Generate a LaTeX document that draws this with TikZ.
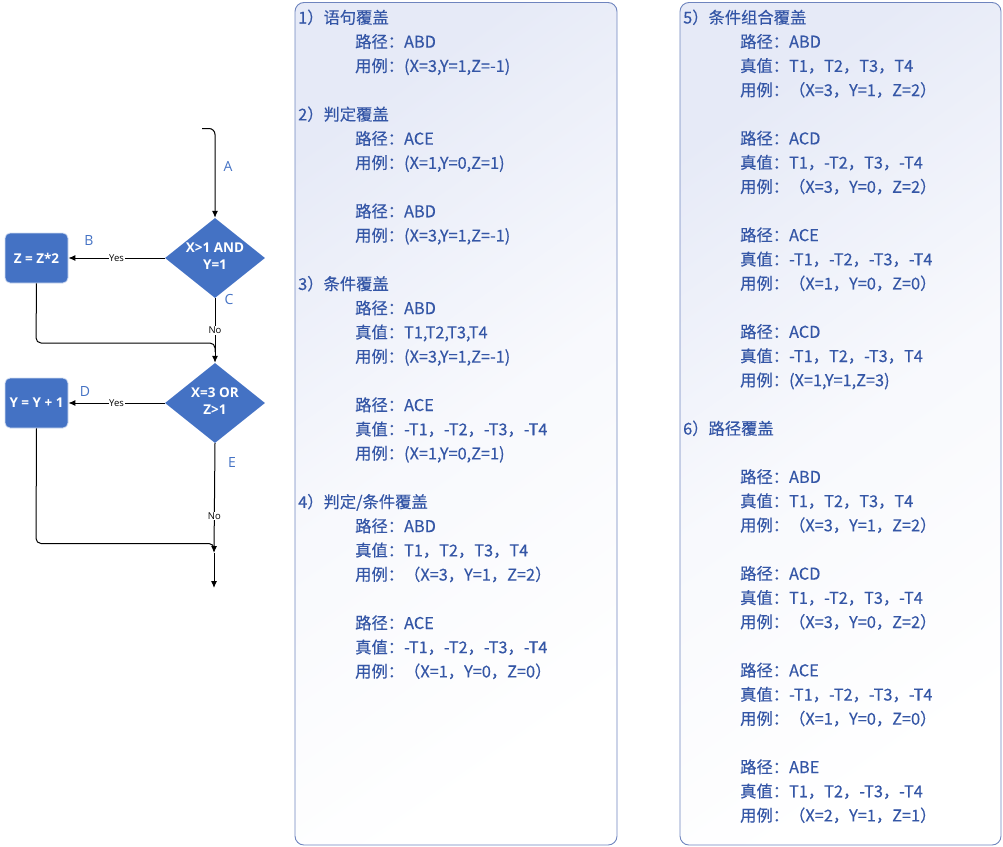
\documentclass[tikz,border=0pt]{standalone}
\usepackage{fontspec}
\setmainfont{Noto Sans CJK SC}[FakeBold=0.3]
\newfontfamily\flowfont{Open Sans}
\usetikzlibrary{arrows.meta,shapes.geometric}
\definecolor{flowblue}{HTML}{4472C4}
\definecolor{txtblue}{RGB}{52,86,166}
\definecolor{boxborder}{RGB}{110,132,190}
\definecolor{boxtint}{RGB}{230,234,247}
\newcommand\ind{\hspace*{57pt}}
\newcommand\blankline{\mbox{}\\}
\newcommand\dtext[1]{\makebox[30pt]{\begin{tabular}{@{}c@{}}#1\end{tabular}}}
\begin{document}
\begin{tikzpicture}[x=1pt,y=-1pt,
  proc/.style={rectangle, rounded corners=5pt, fill=flowblue, draw=white!75!flowblue, line width=0.8pt,
    minimum width=63pt, minimum height=50pt, inner sep=0pt, text=white,
    font=\flowfont\bfseries\fontsize{13.5}{16}\selectfont},
  dec/.style={diamond, aspect=1.25, fill=flowblue, minimum width=100pt, minimum height=80pt, inner sep=0pt,
    text=white, font=\flowfont\bfseries\fontsize{13.5}{17}\selectfont},
  conn/.style={draw=black, line width=1pt},
  arr/.style={conn, -{Latex[length=7pt,width=6pt]}},
  yn/.style={fill=white, inner sep=0.6pt, text=black, font=\flowfont\fontsize{9.5}{10}\selectfont},
  letter/.style={text=flowblue, inner sep=0pt, font=\flowfont\fontsize{14}{15}\selectfont},
  panel/.style={draw=boxborder, line width=0.9pt, rounded corners=9pt,
    top color=boxtint, bottom color=white, middle color=white!70!boxtint, shading angle=35},
  ptext/.style={anchor=base west, inner sep=0pt, text=txtblue}
]
\useasboundingbox (0,0) rectangle (1003,846);

% ---- panels ----
\path[panel] (295,2.5) rectangle (617,845);
\path[panel] (680,2.5) rectangle (1001,845);

\node[ptext] (t1) at (298,23.5) {\begin{minipage}[t]{310pt}\fontsize{16.3pt}{24.22pt}\selectfont\parindent0pt
1）语句覆盖\\
\ind 路径：ABD\\
\ind 用例：(X=3,Y=1,Z=-1)\\
\blankline
2）判定覆盖\\
\ind 路径：ACE\\
\ind 用例：(X=1,Y=0,Z=1)\\
\blankline
\ind 路径：ABD\\
\ind 用例：(X=3,Y=1,Z=-1)\\
\blankline
3）条件覆盖\\
\ind 路径：ABD\\
\ind 真值：T1,T2,T3,T4\\
\ind 用例：(X=3,Y=1,Z=-1)\\
\blankline
\ind 路径：ACE\\
\ind 真值：-T1，-T2，-T3，-T4\\
\ind 用例：(X=1,Y=0,Z=1)\\
\blankline
4）判定/条件覆盖\\
\ind 路径：ABD\\
\ind 真值：T1，T2，T3，T4\\
\ind 用例：（X=3，Y=1，Z=2）\\
\blankline
\ind 路径：ACE\\
\ind 真值：-T1，-T2，-T3，-T4\\
\ind 用例：（X=1，Y=0，Z=0）
\end{minipage}};

\node[ptext] (t2) at (683,23.5) {\begin{minipage}[t]{310pt}\fontsize{16.3pt}{24.18pt}\selectfont\parindent0pt
5）条件组合覆盖\\
\ind 路径：ABD\\
\ind 真值：T1，T2，T3，T4\\
\ind 用例：（X=3，Y=1，Z=2）\\
\blankline
\ind 路径：ACD\\
\ind 真值：T1，-T2，T3，-T4\\
\ind 用例：（X=3，Y=0，Z=2）\\
\blankline
\ind 路径：ACE\\
\ind 真值：-T1，-T2，-T3，-T4\\
\ind 用例：（X=1，Y=0，Z=0）\\
\blankline
\ind 路径：ACD\\
\ind 真值：-T1，T2，-T3，T4\\
\ind 用例：(X=1,Y=1,Z=3)\\
\blankline
6）路径覆盖\\
\blankline
\ind 路径：ABD\\
\ind 真值：T1，T2，T3，T4\\
\ind 用例：（X=3，Y=1，Z=2）\\
\blankline
\ind 路径：ACD\\
\ind 真值：T1，-T2，T3，-T4\\
\ind 用例：（X=3，Y=0，Z=2）\\
\blankline
\ind 路径：ACE\\
\ind 真值：-T1，-T2，-T3，-T4\\
\ind 用例：（X=1，Y=0，Z=0）\\
\blankline
\ind 路径：ABE\\
\ind 真值：T1，T2，-T3，-T4\\
\ind 用例：（X=2，Y=1，Z=1）
\end{minipage}};

% ---- flowchart ----
\node[dec] (d1) at (215,258) {\dtext{X>1 AND\\Y=1}};
\node[dec] (d2) at (215,403) {\dtext{X=3 OR\\Z>1}};
\node[proc] (r1) at (36.5,258) {Z = Z*2};
\node[proc] (r2) at (36.5,403) {Y = Y + 1};

\coordinate (start) at (202,128.5);
\coordinate (m1) at (215,343);
\coordinate (m2) at (214,553);
\coordinate (finish) at (214,588);

\draw[arr, rounded corners=6pt] (start) -- (215,128.5) -- (d1.north);
\draw[arr] (d1.west) -- (r1.east) node[yn, pos=0.5] (y1) {Yes};
\draw[arr] (d1.south) -- (d2.north) node[yn, pos=0.5] (n1) {No};
\draw[conn, rounded corners=5pt] (r1.south) -- (36,343) -- (m1) -- (215,352);
\draw[arr] (d2.west) -- (r2.east) node[yn, pos=0.5] (y2) {Yes};
\draw[arr] (d2.south) -- (m2) node[yn, pos=0.66] (n2) {No};
\draw[conn, rounded corners=5pt] (r2.south) -- (36,543.5) -- (214,543.5) -- (214,550);
\draw[arr] (m2) -- (finish);

\node[letter] (la) at (228,166) {A};
\node[letter] (lb) at (89,240) {B};
\node[letter] (lc) at (229,299) {C};
\node[letter] (ld) at (85,391) {D};
\node[letter] (le) at (232,462) {E};
\end{tikzpicture}
\end{document}
